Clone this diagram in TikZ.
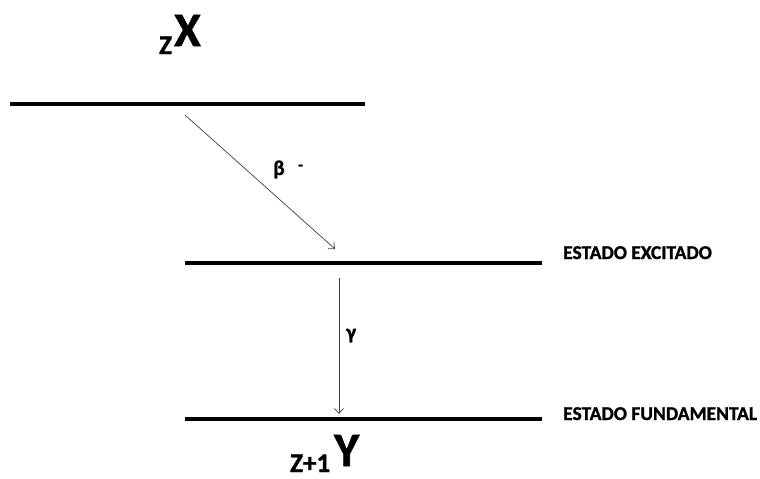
\documentclass[tikz,border=0pt]{standalone}
\usepackage{fontspec}
\setmainfont{Carlito}[Extension=.ttf,UprightFont=*-Regular,BoldFont=*-Bold,BoldFeatures={FakeBold=1.3}]
\usetikzlibrary{arrows.meta}
\tikzset{level/.style={line width=4pt},
         trans/.style={black!75,line width=0.7pt,-{Straight Barb[length=5pt,width=9pt]}},
         statelbl/.style={font=\bfseries\fontsize{19.5}{22}\selectfont,anchor=base west,inner sep=0pt},
         radlbl/.style={font=\bfseries\fontsize{21}{24}\selectfont,anchor=base west,inner sep=0pt},
         chglbl/.style={font=\bfseries\fontsize{16}{18}\selectfont,anchor=base west,inner sep=0pt},
         nucbig/.style={font=\bfseries\fontsize{48}{52}\selectfont,anchor=base west,inner sep=0pt},
         nucsub/.style={font=\bfseries\fontsize{27}{30}\selectfont,anchor=base west,inner sep=0pt}}

\begin{document}
\begin{tikzpicture}[x=1pt,y=-1pt]
    \useasboundingbox (0,0) rectangle (760,479);
    % energy levels
    \draw[level] (10,104) -- (365,104);
    \draw[level] (185,263) -- (542,263);
    \draw[level] (185,419) -- (542,419);
    % parent and daughter
    \node[nucsub] (zsub) at (159,54) {Z};
    \node[nucbig] (xnuc) at (174,46) {X};
    \node[nucsub] (z1sub) at (290,472) {Z+1};
    \node[nucbig] (ynuc) at (334,466) {Y};
    % transitions
    \coordinate (b0) at (185,115);
    \coordinate (b1) at (335,249);
    \draw[trans] (b0) -- (b1);
    \node[radlbl] (beta) at (273,175) {β};
    \node[chglbl] (minus) at (298,170) {-};
    \coordinate (g0) at (339,278);
    \coordinate (g1) at (339,414);
    \draw[trans] (g0) -- (g1);
    \node[radlbl] (gamma) at (346,339) {γ};
    % state names
    \node[statelbl] (exc) at (563,259) {ESTADO EXCITADO};
    \node[statelbl] (fund) at (563,420) {ESTADO FUNDAMENTAL};
\end{tikzpicture}
\end{document}
